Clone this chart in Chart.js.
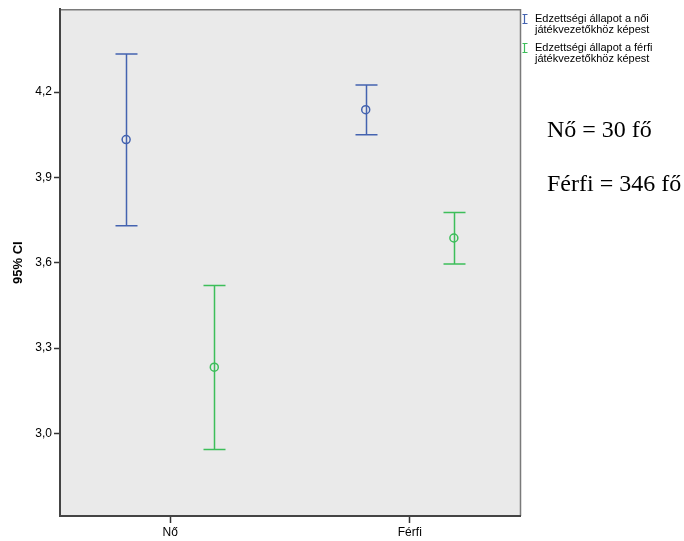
<html>
<head>
<meta charset="utf-8">
<script src="https://cdn.jsdelivr.net/npm/chart.js@4.4.0/dist/chart.umd.min.js"></script>
<style>
  body { margin: 0; background: #fff; }
  #wrap { position: relative; width: 684px; height: 541px; }
  .leg { position: absolute; left: 535px; font: 11px "Liberation Sans", Arial, sans-serif; line-height: 11px; color: #000; }
  .note { position: absolute; left: 547px; font: 24px "Liberation Serif", "Times New Roman", serif; color: #000; white-space: nowrap; }
</style>
</head>
<body>

<div id="wrap">
  <canvas id="ciChart" width="684" height="541"></canvas>
  <div class="leg" style="top:13px">Edzettségi állapot a női<br>játékvezetőkhöz képest</div>
  <div class="leg" style="top:42px">Edzettségi állapot a férfi<br>játékvezetőkhöz képest</div>
  <div class="note" style="top:116px">Nő = 30 fő</div>
  <div class="note" style="top:170px">Férfi = 346 fő</div>
</div>

<script>
    // groups on the x axis
    let groups = ['Nő', 'Férfi'];
    let yTicks = [3.0, 3.3, 3.6, 3.9, 4.2];

    // mean and 95% CI per group
    let noiMean  = [4.033, 4.138];
    let noiLow   = [3.730, 4.050];
    let noiHigh  = [4.334, 4.225];

    let ferfiMean = [3.233, 3.687];
    let ferfiLow  = [2.944, 3.596];
    let ferfiHigh = [3.520, 3.777];

    let seriesNames = ['Edzettségi állapot a női játékvezetőkhöz képest',
                       'Edzettségi állapot a férfi játékvezetőkhöz képest'];

    const blue = '#4463b0';
    const green = '#3dbe5a';
    const dodge = 0.184;

    function points(means, lows, highs, shift) {
        return means.map(function(m, i) {
            return { x: i + 1 + shift, y: m, low: lows[i], high: highs[i] };
        });
    }

    // gray plot background + light frame on top/right
    const plotBg = {
        id: 'plotBg',
        beforeDraw(chart) {
            const a = chart.chartArea, c = chart.ctx;
            c.save();
            c.fillStyle = '#eaeaea';
            c.fillRect(a.left, a.top, a.right - a.left, a.bottom - a.top);
            c.strokeStyle = '#7a7a7a';
            c.lineWidth = 1.5;
            c.beginPath();
            c.moveTo(a.left, a.top + 0.5);
            c.lineTo(a.right + 0.5, a.top + 0.5);
            c.lineTo(a.right + 0.5, a.bottom);
            c.stroke();
            c.restore();
        }
    };

    // vertical CI lines with caps, plus little legend icons
    const errorBars = {
        id: 'errorBars',
        beforeDatasetsDraw(chart) {
            const c = chart.ctx;
            const xs = chart.scales.x, ys = chart.scales.y;
            c.save();
            chart.data.datasets.forEach(function(ds) {
                c.strokeStyle = ds.borderColor;
                c.lineWidth = 1.5;
                ds.data.forEach(function(p) {
                    const px = Math.round(xs.getPixelForValue(p.x)) + 0.5;
                    const yl = ys.getPixelForValue(p.low);
                    const yh = ys.getPixelForValue(p.high);
                    c.beginPath();
                    c.moveTo(px, yl); c.lineTo(px, yh);
                    c.moveTo(px - 11, yl); c.lineTo(px + 11, yl);
                    c.moveTo(px - 11, yh); c.lineTo(px + 11, yh);
                    c.stroke();
                });
            });
            c.restore();
        },
        afterDraw(chart) {
            const c = chart.ctx;
            c.save();
            c.lineWidth = 1.2;
            [[blue, 14], [green, 43]].forEach(function(it) {
                const x = 524.5, y0 = it[1] + 0.5, y1 = it[1] + 9.5;
                c.strokeStyle = it[0];
                c.beginPath();
                c.moveTo(x, y0); c.lineTo(x, y1);
                c.moveTo(x - 2, y0); c.lineTo(x + 3, y0);
                c.moveTo(x - 2, y1); c.lineTo(x + 3, y1);
                c.stroke();
            });
            c.restore();
        }
    };

    const axisFont = { family: '"Liberation Sans", Arial, sans-serif', size: 12 };

    var ctx = document.getElementById('ciChart').getContext('2d');
    var chart = new Chart(ctx, {
        type: 'scatter',
        data: {
            datasets: [{
                label: seriesNames[0],
                data: points(noiMean, noiLow, noiHigh, -dodge),
                borderColor: blue,
                backgroundColor: 'transparent',
                pointRadius: 4,
                pointBorderWidth: 1.5
            }, {
                label: seriesNames[1],
                data: points(ferfiMean, ferfiLow, ferfiHigh, dodge),
                borderColor: green,
                backgroundColor: 'transparent',
                pointRadius: 4,
                pointBorderWidth: 1.5
            }]
        },
        options: {
            responsive: false,
            animation: false,
            layout: { padding: { left: 0, top: 8, right: 164, bottom: 0 } },
            plugins: { legend: { display: false }, tooltip: { enabled: false } },
            scales: {
                x: {
                    type: 'linear',
                    min: 0.54,
                    max: 2.46,
                    afterBuildTicks: function(s) { s.ticks = groups.map(function(g, i) { return { value: i + 1 }; }); },
                    afterFit: function(s) { s.height = 25; },
                    ticks: {
                        autoSkip: false,
                        maxRotation: 0,
                        padding: 2,
                        color: '#000',
                        font: axisFont,
                        callback: function(v) { return groups[v - 1]; }
                    },
                    grid: { drawOnChartArea: false, drawTicks: true, tickLength: 7, tickWidth: 1.5, color: '#333' },
                    border: { color: '#444', width: 2 }
                },
                y: {
                    min: 2.71,
                    max: 4.491,
                    afterBuildTicks: function(s) { s.ticks = yTicks.map(function(v) { return { value: v }; }); },
                    afterFit: function(s) { s.width = 60; },
                    ticks: {
                        padding: 2,
                        color: '#000',
                        font: axisFont,
                        callback: function(v) { return v.toFixed(1).replace('.', ','); }
                    },
                    grid: { drawOnChartArea: false, drawTicks: true, tickLength: 6, tickWidth: 1.5, color: '#333' },
                    border: { color: '#444', width: 2 },
                    title: {
                        display: true,
                        text: '95% CI',
                        color: '#000',
                        padding: { top: 11, bottom: 0 },
                        font: { family: '"Liberation Sans", Arial, sans-serif', size: 13, weight: 'bold' }
                    }
                }
            }
        },
        plugins: [plotBg, errorBars]
    });
</script>

</body>
</html>
